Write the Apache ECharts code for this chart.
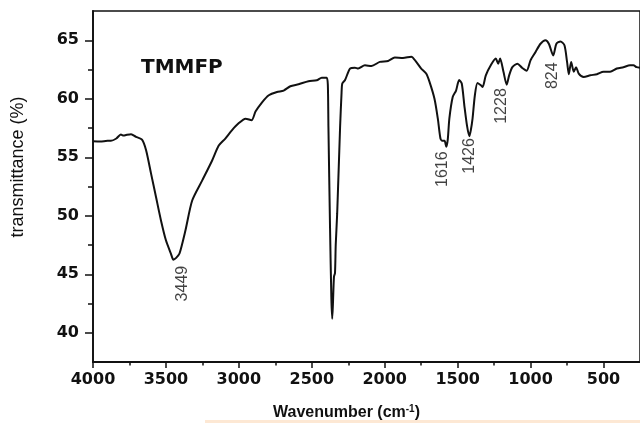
<!DOCTYPE html>
<html>
<head>
<meta charset="utf-8">
<script src="https://cdn.jsdelivr.net/npm/echarts@6/dist/echarts.min.js"></script>
<style>
  html, body { margin: 0; padding: 0; background: #fff; }
  #chart { width: 640px; height: 423px; }
</style>
</head>
<body>
<div id="chart"></div>
<script>
// ---- data ----
const wavenumber = [
  4000, 3950, 3900, 3877, 3840, 3809, 3790, 3773, 3739, 3705, 3664, 3636, 3602, 3568, 3534,
  3500, 3466, 3449, 3430, 3407, 3366, 3320, 3252, 3184, 3138, 3093, 3048, 3002, 2954, 2913,
  2886, 2841, 2795, 2739, 2693, 2647, 2591, 2523, 2466, 2432, 2398, 2390, 2386, 2375, 2366,
  2360, 2355, 2348, 2341, 2336, 2326, 2306, 2296, 2291, 2272, 2238, 2204, 2182, 2136, 2091,
  2034, 1977, 1931, 1875, 1818, 1784, 1750, 1716, 1693, 1659, 1636, 1618, 1605, 1590, 1578,
  1568, 1557, 1534, 1511, 1490, 1472, 1454, 1436, 1420, 1410, 1398, 1382, 1364, 1341, 1329,
  1307, 1273, 1239, 1222, 1209, 1186, 1164, 1147, 1125, 1091, 1057, 1027, 1000, 966, 932,
  898, 875, 845, 823, 795, 768, 750, 738, 722, 704, 688, 670, 636, 591, 545,
  500, 455, 409, 364, 318, 295, 273, 250
];
const transmittance = [
  56.37, 56.35, 56.40, 56.40, 56.60, 56.94, 56.85, 56.90, 56.97, 56.74, 56.51, 55.60, 53.60, 51.60, 49.60,
  47.90, 46.77, 46.25, 46.40, 46.77, 48.76, 51.30, 53.00, 54.70, 56.00, 56.60, 57.30, 57.90, 58.30, 58.16,
  58.90, 59.70, 60.30, 60.58, 60.70, 61.07, 61.24, 61.50, 61.58, 61.80, 61.80, 61.20, 57.60, 49.00, 43.00,
  41.20, 42.50, 44.80, 45.10, 47.50, 50.20, 57.60, 60.50, 61.30, 61.60, 62.58, 62.66, 62.58, 62.86, 62.80,
  63.15, 63.23, 63.52, 63.49, 63.60, 63.15, 62.58, 62.15, 61.44, 60.00, 58.30, 56.60, 56.40, 56.40, 55.90,
  56.50, 58.30, 60.15, 60.70, 61.60, 61.30, 59.40, 57.70, 56.80, 57.30, 58.30, 60.30, 61.35, 61.15, 61.00,
  62.00, 62.86, 63.43, 63.00, 63.43, 62.30, 61.20, 62.00, 62.70, 63.00, 62.63, 62.40, 63.30, 64.00, 64.70,
  65.00, 64.70, 63.70, 64.70, 64.90, 64.57, 63.15, 62.10, 63.15, 62.30, 62.70, 62.15, 61.86, 62.00, 62.10,
  62.30, 62.30, 62.58, 62.70, 62.86, 62.86, 62.70, 62.65
];

// peak annotations (text, and the data point the rotated text is centred on)
const peakNames = ['3449', '1616', '1426', '1228', '824'];
const peakLabelWn = [3388, 1602, 1420, 1200, 852];
const peakLabelT = [44.2, 53.98, 55.11, 59.38, 61.97];

// axis ticks
const xMajorTicks = [4000, 3500, 3000, 2500, 2000, 1500, 1000, 500];
const xMinorTicks = [3750, 3250, 2750, 2250, 1750, 1250, 750];
const yMajorTicks = [40, 45, 50, 55, 60, 65];
const yMinorTicks = [42.5, 47.5, 52.5, 57.5, 62.5];

const sampleName = 'TMMFP';
const xTitle = 'Wavenumber (cm';
const yTitle = 'transmittance (%)';

// ---- chart ----
const spectrum = wavenumber.map((w, i) => [w, transmittance[i]]);
const peaks = peakNames.map((n, i) => ({ value: [peakLabelWn[i], peakLabelT[i]], name: n }));

const chart = echarts.init(document.getElementById('chart'), null, { renderer: 'canvas' });

const tickFont = { fontFamily: 'DejaVu Sans', fontWeight: 'bold', fontSize: 16, color: '#111' };
const xBase = { type: 'value', min: 250, max: 4000, inverse: true, position: 'bottom', splitLine: { show: false } };
const yBase = { type: 'value', min: 37.5, max: 67.5, position: 'left', splitLine: { show: false } };

const option = {
  backgroundColor: '#fff',
  animation: false,
  grid: { left: 93, top: 11, width: 550, height: 351, show: true, borderColor: '#111', borderWidth: 1.5, backgroundColor: 'transparent' },
  xAxis: [
    Object.assign({}, xBase, {
      axisLine: { show: true, lineStyle: { color: '#111', width: 1.8 } },
      axisTick: { show: true, length: 6, customValues: xMajorTicks, lineStyle: { color: '#111', width: 1.5 } },
      axisLabel: Object.assign({ show: true, margin: 10, customValues: xMajorTicks, formatter: v => String(v) }, tickFont)
    }),
    Object.assign({}, xBase, {
      axisLine: { show: false },
      axisTick: { show: true, length: 3.5, customValues: xMinorTicks, lineStyle: { color: '#111', width: 1.5 } },
      axisLabel: { show: false }
    })
  ],
  yAxis: [
    Object.assign({}, yBase, {
      axisLine: { show: true, lineStyle: { color: '#111', width: 1.8 } },
      axisTick: { show: true, length: 8, customValues: yMajorTicks, lineStyle: { color: '#111', width: 1.5 } },
      axisLabel: Object.assign({ show: true, margin: 14, customValues: yMajorTicks, formatter: v => String(v) }, tickFont)
    }),
    Object.assign({}, yBase, {
      axisLine: { show: false },
      axisTick: { show: true, length: 5, customValues: yMinorTicks, lineStyle: { color: '#111', width: 1.5 } },
      axisLabel: { show: false }
    })
  ],
  series: [
    {
      type: 'line',
      data: spectrum,
      xAxisIndex: 0, yAxisIndex: 0,
      showSymbol: false,
      symbol: 'none',
      smooth: 0.25,
      lineStyle: { color: '#111', width: 2 },
      z: 3
    },
    {
      type: 'scatter',
      data: peaks,
      xAxisIndex: 0, yAxisIndex: 0,
      symbolSize: 0,
      silent: true,
      label: {
        show: true,
        position: 'inside',
        rotate: 90,
        formatter: p => p.name,
        fontFamily: 'Liberation Sans',
        fontSize: 16,
        color: '#111'
      },
      z: 4
    }
  ],
  graphic: [
    {
      type: 'text', left: 141, top: 58,
      style: { text: sampleName, fontFamily: 'DejaVu Sans', fontWeight: 'bold', fontSize: 20, fill: '#111' }
    },
    {
      type: 'text', x: 18, y: 167, rotation: Math.PI / 2,
      style: { text: yTitle, fontFamily: 'Liberation Sans', fontSize: 18, fill: '#111', align: 'center', verticalAlign: 'middle' }
    },
    {
      type: 'text', x: 273, y: 413,
      style: {
        text: '{a|' + xTitle + '}{s|-1}{a|)}',
        verticalAlign: 'middle', align: 'left',
        rich: {
          a: { fontFamily: 'Liberation Sans', fontWeight: 'bold', fontSize: 16, fill: '#111' },
          s: { fontFamily: 'Liberation Sans', fontWeight: 'bold', fontSize: 10, fill: '#111', verticalAlign: 'top', padding: [0, 0, 8, 0] }
        }
      }
    },
    {
      type: 'rect', shape: { x: 205, y: 420, width: 435, height: 3 },
      style: { fill: '#fde8d4' }, silent: true
    }
  ]
};
chart.setOption(option);
</script>
</body>
</html>
